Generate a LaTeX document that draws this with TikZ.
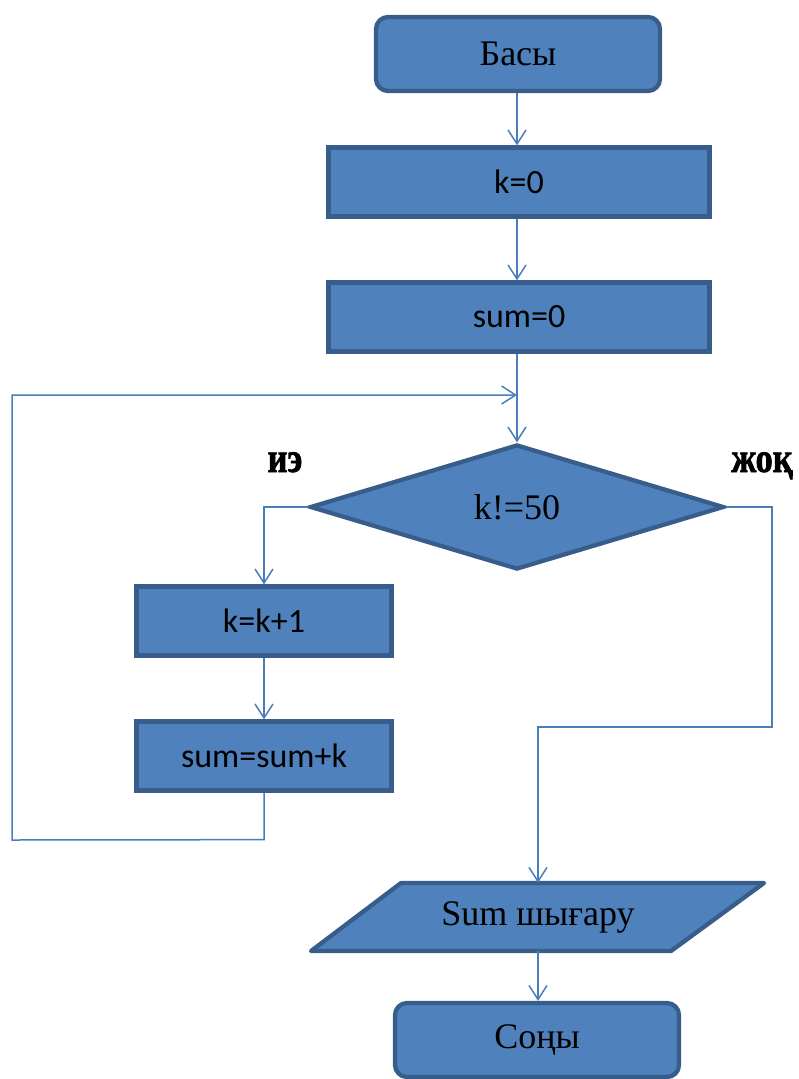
\documentclass[tikz,border=0pt]{standalone}
\usepackage{fontspec}
\setmainfont{Liberation Serif}
\newfontfamily\calfont{Carlito}
\newfontfamily\heavyfont[FakeBold=1.6,FakeStretch=0.82]{Liberation Serif Bold}
\usetikzlibrary{shapes.geometric,arrows.meta}
\definecolor{boxfill}{HTML}{4F81BD}
\definecolor{boxline}{HTML}{385D8A}
\definecolor{conn}{HTML}{4A7EBB}
\tikzset{
  base/.style={fill=boxfill, draw=boxline, line width=4.3pt, inner sep=0pt, text=black},
  term/.style={base, rectangle, rounded corners=12pt, minimum width=284pt, minimum height=74pt,
     font=\fontsize{36}{40}\selectfont},
  procbox/.style={base, rectangle, minimum height=69pt, font=\calfont\fontsize{34}{40}\selectfont},
  decision/.style={base, diamond, minimum width=414pt, minimum height=125pt, aspect=3.3,
     font=\fontsize{36}{40}\selectfont},
  arr/.style={draw=conn, line width=1.5pt, -{Straight Barb[length=14pt,width=18pt,line width=1.5pt]}},
  lbl/.style={font=\heavyfont\fontsize{42}{46}\selectfont, inner sep=0pt, anchor=base}
}
\begin{document}
\begin{tikzpicture}[x=1pt,y=-1pt]
\useasboundingbox (0,0) rectangle (798,1079);
\node[term] (start) at (518,54) {Басы};
\node[procbox, minimum width=381pt] (k0) at (519,182) {k=0};
\node[procbox, minimum width=381pt] (s0) at (519,317) {sum=0};
\node[decision] (d) at (517,507) {k!=50};
\node[procbox, minimum width=255pt] (k1) at (264,621) {k=k+1};
\node[procbox, minimum width=255pt] (s1) at (264,756) {sum=sum+k};
\fill[boxfill, draw=boxline, line width=4.3pt, line join=round] (401,883) -- (764,883) -- (671,951) -- (311,951) -- cycle;
\node[inner sep=0pt, minimum width=360pt, minimum height=68pt, font=\fontsize{36}{40}\selectfont] (p) at (538,917) {Sum шығару};
\node[term] (end) at (537,1040) {Соңы};
\node[lbl] (yes) at (285,472) {иэ};
\node[lbl] (no) at (762,472) {жоқ};
\coordinate (j) at (517,395);

\draw[arr] (start.south -| 517,0) -- (k0.north -| 517,0);
\draw[arr] (k0.south -| 517,0) -- (s0.north -| 517,0);
\draw[arr] (s0.south -| 517,0) -- (d.north);
\draw[arr] (d.west) -| (k1.north);
\draw[arr] (k1.south) -- (s1.north);
\draw[arr] (s1.south) -- ++(0,47) -- (12,840) |- (j);
\draw[arr] (d.east) -- (772,507) -- (772,727) -| (p.north);
\draw[arr] (p.south) -- (end.north -| p.south);
\end{tikzpicture}
\end{document}
